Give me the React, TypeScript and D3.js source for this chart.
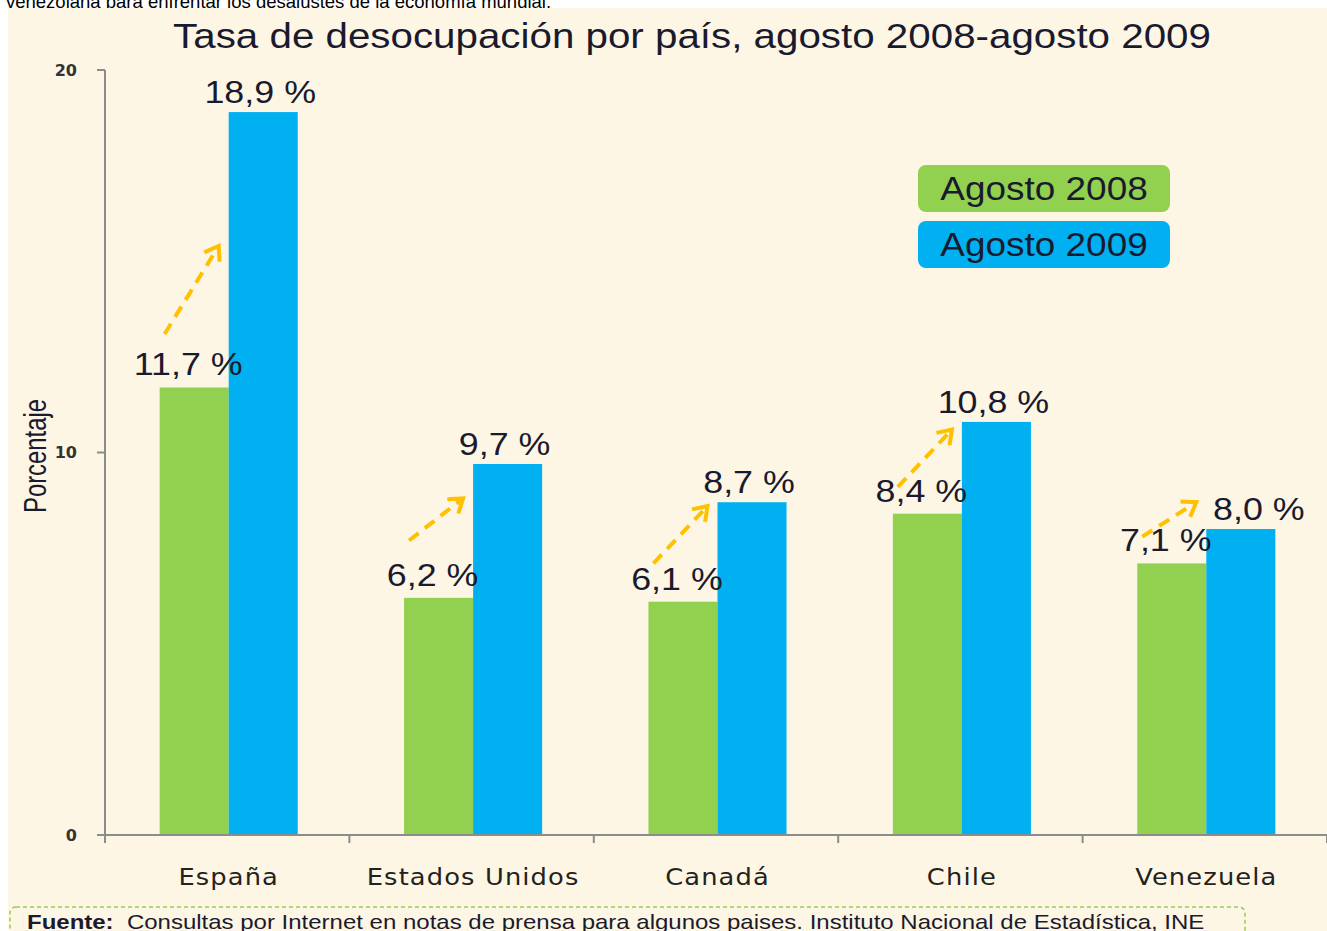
import React from "react";
import * as d3 from "d3";

const countries = ["España", "Estados Unidos", "Canadá", "Chile", "Venezuela"];
const series = ["Agosto 2008", "Agosto 2009"];
const values2008 = [11.7, 6.2, 6.1, 8.4, 7.1];
const values2009 = [18.9, 9.7, 8.7, 10.8, 8.0];
const labels2008 = ["11,7 %", "6,2 %", "6,1 %", "8,4 %", "7,1 %"];
const labels2009 = ["18,9 %", "9,7 %", "8,7 %", "10,8 %", "8,0 %"];
// annotation arrows (value units)
const arrowFrom = [13.1, 7.7, 7.1, 9.1, 7.8];
const arrowTo = [15.4, 8.8, 8.6, 10.6, 8.7];
const yTicks = [0, 10, 20];

const W = 1327;
const H = 931;
const SX = 1.12;
const GREEN = "#92D050";
const BLUE = "#00B0F0";
const ORANGE = "#FFC000";
const BG = "#FEF6E4";
const AXIS = "#8C8C8C";
const TXT = "#1A1A2E";

export default function App() {
  const x0 = 105, x1 = 1327, yTop = 70, yBot = 835;
  const y = d3.scaleLinear().domain([0, 20]).range([yBot, yTop]);
  const x = d3
    .scaleBand<string>()
    .domain(countries)
    .range([x0 + 1.5, x1 + 1.5])
    .paddingInner(0.435)
    .paddingOuter(0.2175);
  const bw = x.bandwidth();
  const xs = d3.scaleBand<string>().domain(series).range([0, bw]);
  const step = x.step();
  const boundaries = d3.range(countries.length + 1).map((i) => x0 + i * step);
  const sw = xs.bandwidth();

  const stretched = (
    tx: number,
    ty: number,
    content: React.ReactNode,
    props: any = {},
    sx: number = SX
  ) => (
    <text transform={`translate(${tx},${ty}) scale(${sx},1)`} {...props}>
      {content}
    </text>
  );

  return (
    <svg
      width={W}
      height={H}
      style={{ position: "absolute", left: 0, top: 0, background: "#fff" }}
      fontFamily="Arial, 'Liberation Sans', sans-serif"
    >
      <defs>
        <marker
          id="arrowhead"
          markerUnits="userSpaceOnUse"
          viewBox="-16 -12 20 24"
          markerWidth={20}
          markerHeight={24}
          refX={0}
          refY={0}
          orient="auto"
        >
          <path d="M-13,-9 L0,0 L-13,9" fill="none" stroke={ORANGE} strokeWidth={4} strokeLinejoin="miter" />
        </marker>
      </defs>
      <text x={6} y={8} fontSize={18.5} fill="#000">
        venezolana para enfrentar los desajustes de la economía mundial.
      </text>
      <rect x={8} y={8} width={W - 8} height={H - 8} fill={BG} />

      {stretched(
        692,
        48,
        "Tasa de desocupación por país, agosto 2008-agosto 2009",
        { textAnchor: "middle", fontSize: 36, fill: TXT }
      )}

      {/* y axis */}
      <line x1={x0} x2={x0} y1={yTop} y2={yBot} stroke={AXIS} strokeWidth={2} />
      {yTicks.map((t) => (
        <g key={t}>
          <line x1={x0 - 8} x2={x0} y1={y(t)} y2={y(t)} stroke={AXIS} strokeWidth={2} />
          <text
            x={77}
            y={y(t)}
            dy="0.35em"
            textAnchor="end"
            fontFamily="'DejaVu Sans', Verdana, sans-serif"
            fontWeight="bold"
            fontSize={16}
            fill="#333"
          >
            {t}
          </text>
        </g>
      ))}
      <text
        transform={`translate(46,456) rotate(-90)`}
        textAnchor="middle"
        fontSize={32}
        fill={TXT}
        textLength={114}
        lengthAdjust="spacingAndGlyphs"
      >
        Porcentaje
      </text>

      {/* bars */}
      {countries.map((c, i) => (
        <g key={c} transform={`translate(${x(c)},0)`}>
          <rect x={xs(series[0])} y={y(values2008[i])} width={sw} height={y(0) - y(values2008[i])} fill={GREEN} />
          <rect x={xs(series[1])} y={y(values2009[i])} width={sw} height={y(0) - y(values2009[i])} fill={BLUE} />
        </g>
      ))}

      {/* x axis */}
      <line x1={x0} x2={x1} y1={yBot} y2={yBot} stroke={AXIS} strokeWidth={2} />
      {boundaries.map((b, i) => (
        <line key={i} x1={b} x2={b} y1={yBot} y2={yBot + 8} stroke={AXIS} strokeWidth={2} />
      ))}
      {countries.map((c) =>
        stretched((x(c) as number) + bw / 2, 885, c, {
          key: c,
          textAnchor: "middle",
          fontFamily: "'DejaVu Sans', Verdana, sans-serif",
          fontSize: 23,
          letterSpacing: 1,
          fill: "#222",
        })
      )}

      {/* arrows */}
      {countries.map((c, i) => {
        const bx = x(c) as number;
        return (
          <line
            key={c}
            x1={bx + 5}
            y1={y(arrowFrom[i])}
            x2={bx + sw - 10}
            y2={y(arrowTo[i])}
            stroke={ORANGE}
            strokeWidth={4}
            strokeDasharray="12 8"
            markerEnd="url(#arrowhead)"
          />
        );
      })}

      {/* value labels */}
      {countries.map((c, i) => {
        const bx = x(c) as number;
        return (
          <g key={c}>
            {stretched(bx + sw / 2 - 6, y(values2008[i]) - 12, labels2008[i], {
              textAnchor: "middle",
              fontSize: 32,
              fill: TXT,
            })}
            {stretched(
              bx + sw * 1.5 + (i === 4 ? 18 : -3),
              y(values2009[i]) - 9,
              labels2009[i],
              { textAnchor: "middle", fontSize: 32, fill: TXT }
            )}
          </g>
        );
      })}

      {/* legend */}
      {series.map((s, i) => (
        <g key={s}>
          <rect x={918} y={165 + i * 56} width={252} height={47} rx={8} fill={i === 0 ? GREEN : BLUE} />
          {stretched(1044, 165 + i * 56 + 35, s, {
            textAnchor: "middle",
            fontSize: 33,
            fill: TXT,
          })}
        </g>
      ))}

      {/* footer */}
      <rect
        x={10}
        y={907}
        width={1235}
        height={50}
        rx={6}
        fill="none"
        stroke={GREEN}
        strokeWidth={1.5}
        strokeDasharray="4 3"
      />
      {stretched(
        27,
        929,
        <>
          <tspan fontWeight="bold">Fuente:</tspan>
          <tspan>{"  Consultas por Internet en notas de prensa para algunos paises. Instituto Nacional de Estadística, INE"}</tspan>
        </>,
        { fontSize: 20, fill: TXT, style: { whiteSpace: "pre" } },
        1.2
      )}
    </svg>
  );
}
